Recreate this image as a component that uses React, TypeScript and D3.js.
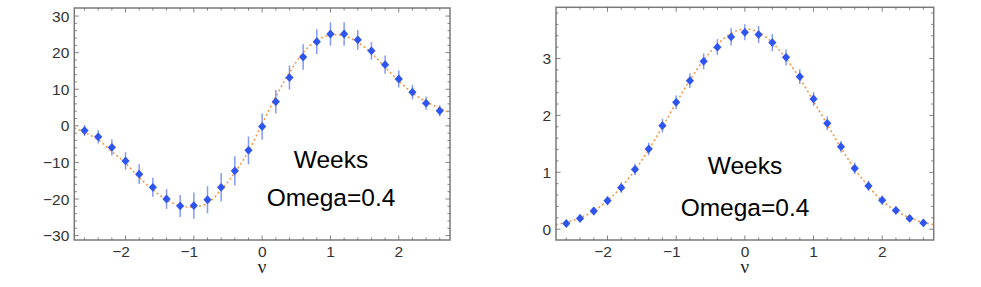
import * as d3 from "d3";

// nu grid of the measured points
const nu = [-2.6, -2.4, -2.2, -2.0, -1.8, -1.6, -1.4, -1.2, -1.0, -0.8, -0.6, -0.4, -0.2, 0,
  0.2, 0.4, 0.6, 0.8, 1.0, 1.2, 1.4, 1.6, 1.8, 2.0, 2.2, 2.4, 2.6];

// left panel: measured values and error half-widths
const leftVals = [-1.3, -3.0, -5.9, -9.6, -13.2, -16.8, -20.0, -21.9, -21.8, -20.2, -16.8, -12.3, -6.7, -0.2,
  6.6, 13.2, 18.8, 23.0, 25.1, 25.1, 23.5, 20.5, 16.7, 12.8, 9.2, 6.2, 4.1];
const leftErr = [1.5, 1.8, 2.2, 2.4, 2.7, 2.6, 2.7, 3.0, 3.6, 3.7, 3.9, 4.0, 3.8, 3.6,
  3.2, 3.3, 3.5, 3.4, 3.2, 3.2, 2.7, 2.4, 2.5, 2.3, 2.0, 1.8, 1.5];

// right panel: measured values and error half-widths
const rightVals = [0.10, 0.19, 0.32, 0.50, 0.73, 1.05, 1.41, 1.82, 2.23, 2.61, 2.95, 3.20, 3.38, 3.46,
  3.42, 3.28, 3.02, 2.68, 2.29, 1.86, 1.45, 1.07, 0.76, 0.51, 0.33, 0.19, 0.11];
const rightErr = [0.06, 0.07, 0.07, 0.08, 0.09, 0.1, 0.11, 0.12, 0.12, 0.13, 0.14, 0.14, 0.15, 0.14,
  0.15, 0.15, 0.14, 0.13, 0.12, 0.12, 0.1, 0.1, 0.09, 0.08, 0.07, 0.06, 0.06];

// fitted curves
const fitNu = [-2.75, -2.6, -2.4, -2.2, -2.0, -1.8, -1.6, -1.4, -1.2, -1.0, -0.8, -0.6, -0.4, -0.2, 0,
  0.2, 0.4, 0.6, 0.8, 1.0, 1.2, 1.4, 1.6, 1.8, 2.0, 2.2, 2.4, 2.6, 2.75];
const leftFit = [-0.6, -1.8, -3.8, -7.0, -10.2, -14.1, -17.5, -20.2, -21.8, -22.2, -21.1, -17.5, -12.8, -6.9, 0.6,
  7.9, 14.6, 20.0, 23.4, 24.8, 24.6, 22.8, 19.9, 16.0, 12.3, 9.0, 6.6, 4.8, 3.6];
const rightFit = [0.08, 0.12, 0.2, 0.32, 0.5, 0.74, 1.04, 1.40, 1.80, 2.22, 2.62, 2.97, 3.25, 3.44, 3.52,
  3.46, 3.28, 3.0, 2.65, 2.25, 1.84, 1.43, 1.06, 0.75, 0.5, 0.32, 0.2, 0.12, 0.08];

const xTicks = [-2, -1, 0, 1, 2];
const leftYTicks = [-30, -20, -10, 0, 10, 20, 30];
const rightYTicks = [0, 1, 2, 3];

const fmt = (v: number) => (v < 0 ? "\u2212" + Math.abs(v) : String(v));
const tickFont = "Liberation Sans, Arial, sans-serif";

type PanelProps = {
  left: number; right: number; top: number; bottom: number;
  yDomain: [number, number];
  vals: number[]; errs: number[]; fit: number[];
  yTicks: number[]; yMinor: number[];
  textX: number; textY: [number, number];
};

function Panel(p: PanelProps) {
  const x = d3.scaleLinear().domain([-2.75, 2.75]).range([p.left, p.right]);
  const y = d3.scaleLinear().domain(p.yDomain).range([p.bottom, p.top]);
  const xMinor = d3.range(-13, 14).map(i => i / 5);

  const line = d3.line<number>()
    .x((d, i) => x(fitNu[i]))
    .y(d => y(d))
    .curve(d3.curveCatmullRom);

  return (
    <g>
      {/* dotted fit */}
      <path d={line(p.fit) || ""} fill="none" stroke="#f29a48" strokeWidth={1.6} strokeDasharray="2 2.6" />

      {/* error bars */}
      {nu.map((n, i) => (
        <line key={"e" + i} x1={x(n)} x2={x(n)} y1={y(p.vals[i] - p.errs[i])} y2={y(p.vals[i] + p.errs[i])}
          stroke="#6f88f2" strokeOpacity={0.85} strokeWidth={1.5} />
      ))}

      {/* diamond markers */}
      {nu.map((n, i) => {
        const px = x(n), py = y(p.vals[i]);
        return <path key={"m" + i} d={`M${px},${py - 4.4}L${px + 4.1},${py}L${px},${py + 4.4}L${px - 4.1},${py}Z`} fill="#2f55f0" />;
      })}

      {/* frame */}
      <rect x={p.left} y={p.top} width={p.right - p.left} height={p.bottom - p.top} fill="none" stroke="#7a7a7a" strokeWidth={1.5} />

      {/* ticks on all sides, pointing inward */}
      {xMinor.map((t, i) => {
        const major = Number.isInteger(Math.round(t * 1000) / 1000);
        const len = major ? 4.5 : 2.5;
        return (
          <g key={"xt" + i} stroke="#666" strokeWidth={0.8}>
            <line x1={x(t)} x2={x(t)} y1={p.bottom} y2={p.bottom - len} />
            <line x1={x(t)} x2={x(t)} y1={p.top} y2={p.top + len} />
          </g>
        );
      })}
      {p.yMinor.map((t, i) => {
        const major = p.yTicks.some(v => Math.abs(v - t) < 1e-6);
        const len = major ? 4.5 : 2.5;
        return (
          <g key={"yt" + i} stroke="#666" strokeWidth={0.8}>
            <line x1={p.left} x2={p.left + len} y1={y(t)} y2={y(t)} />
            <line x1={p.right} x2={p.right - len} y1={y(t)} y2={y(t)} />
          </g>
        );
      })}

      {/* tick labels */}
      {xTicks.map(t => (
        <text key={"xl" + t} x={x(t) + 4.4} y={p.bottom + 16.5} textAnchor="end"
          fontFamily={tickFont} fontSize={15.5} fill="#333">{fmt(t)}</text>
      ))}
      {p.yTicks.map(t => (
        <text key={"yl" + t} x={p.left - 5} y={y(t)} dy="0.36em" textAnchor="end"
          fontFamily={tickFont} fontSize={15.5} fill="#333">{fmt(t)}</text>
      ))}

      {/* axis label */}
      <text x={x(0)} y={p.bottom + 32.5} textAnchor="middle" fontFamily="Liberation Serif, serif" fontSize={19} fill="#222">ν</text>

      {/* annotation */}
      <text x={p.textX} y={p.textY[0]} textAnchor="middle" fontFamily="Liberation Sans, Arial, sans-serif" fontSize={24.5} fill="#000">Weeks</text>
      <text x={p.textX} y={p.textY[1]} textAnchor="middle" fontFamily="Liberation Sans, Arial, sans-serif" fontSize={24.5} fill="#000">Omega=0.4</text>
    </g>
  );
}

export default function App() {
  return (
    <div style={{ position: "absolute", left: 0, top: 0 }}>
      <svg width={981} height={287} style={{ display: "block", background: "#fff" }}>
        <Panel left={74.3} right={450} top={8} bottom={240} yDomain={[-31.2, 32.2]}
          vals={leftVals} errs={leftErr} fit={leftFit}
          yTicks={leftYTicks} yMinor={d3.range(-15, 16).map(i => i * 2)} textX={331} textY={[168, 206]} />
        <Panel left={556} right={933.7} top={7.3} bottom={240} yDomain={[-0.19, 3.9]}
          vals={rightVals} errs={rightErr} fit={rightFit}
          yTicks={rightYTicks} yMinor={d3.range(0, 20).map(i => i / 5)} textX={745} textY={[173.5, 216]} />
      </svg>
    </div>
  );
}
